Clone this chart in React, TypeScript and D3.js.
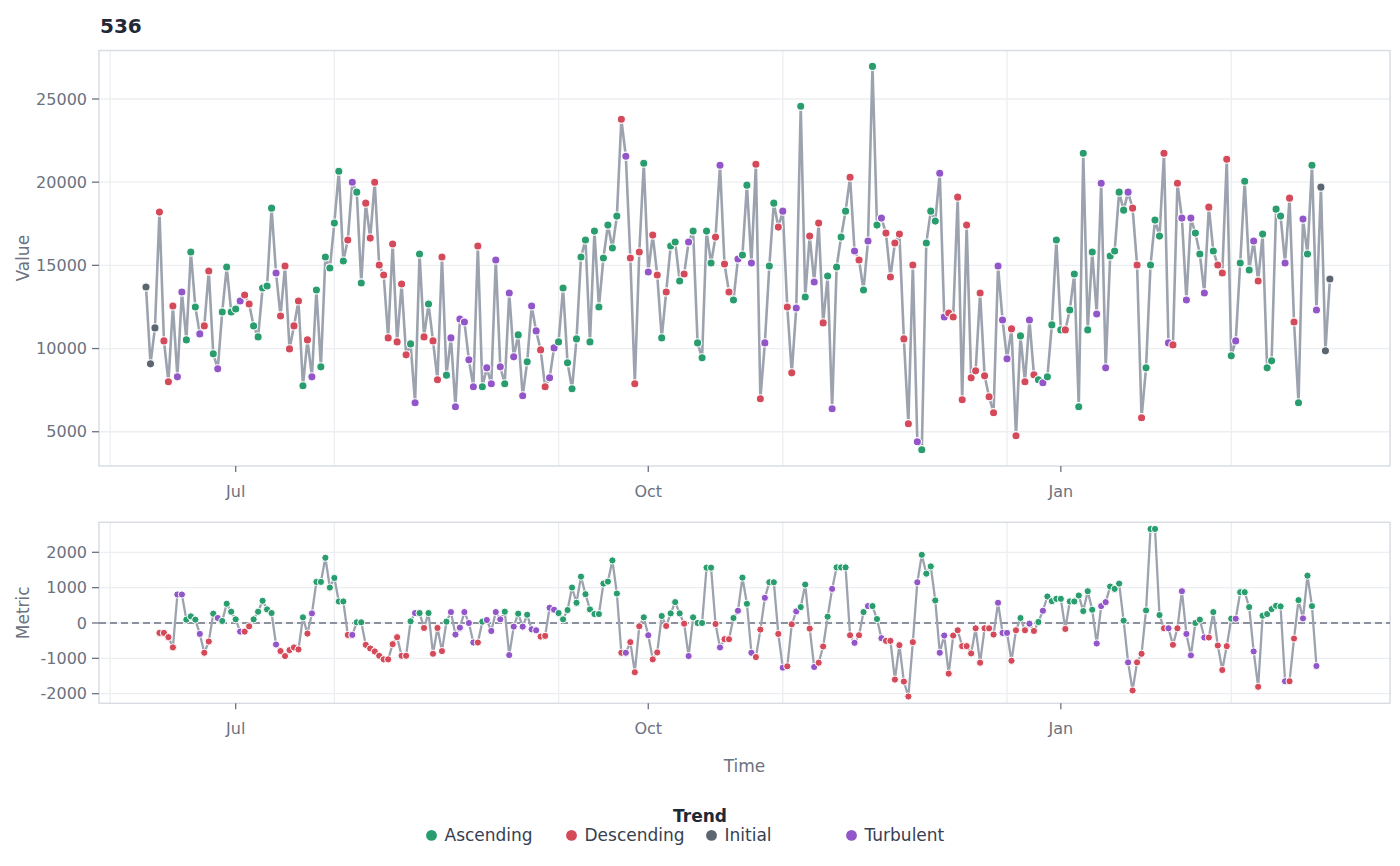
import React from "react";
import * as d3 from "d3";

// ---------- DATA ----------
const chartTitle = "536";
const startDate = "2023-06-11"; // first daily observation

const values: number[] = [
  13700, 9080, 11240, 18200, 10460, 8000, 12560, 8300, 13400, 10520,
  15800, 12500, 10880, 11360, 14660, 9680, 8780, 12200, 14900, 12200,
  12380, 12860, 13220, 12680, 11360, 10700, 13640, 13760, 18440, 14540,
  11960, 14960, 9980, 11360, 12860, 7760, 10520, 8300, 13520, 8900,
  15500, 14840, 17540, 20660, 15260, 16520, 20000, 19400, 13940, 18740,
  16640, 20000, 15020, 14420, 10640, 16280, 10400, 13880, 9620, 10280,
  6740, 15680, 10700, 12680, 10460, 8120, 15500, 8400, 10640, 6500,
  11780, 11600, 9320, 7700, 16160, 7700, 8840, 7880, 15320, 8900,
  7880, 13340, 9500, 10820, 7160, 9200, 12560, 11060, 9920, 7700,
  8240, 10040, 10400, 13640, 9140, 7580, 10580, 15500, 16520, 10400,
  17060, 12500, 15440, 17420, 16040, 17960, 23780, 21560, 15440, 7880,
  15800, 21140, 14600, 16820, 14420, 10640, 13400, 16160, 16400, 14060,
  14480, 16400, 17060, 10340, 9440, 17060, 15140, 16700, 21020, 15080,
  13400, 12920, 15380, 15620, 19820, 15140, 21080, 6980, 10340, 14960,
  18740, 17300, 18260, 12500, 8540, 12440, 24560, 13100, 16760, 14000,
  17540, 11540, 14360, 6380, 14900, 16700, 18260, 20300, 15860, 15320,
  13520, 16460, 26960, 17420, 17840, 16940, 14300, 16340, 16880, 10580,
  5480, 15020, 4400, 3920, 16340, 18260, 17660, 20540, 11900, 12140,
  11900, 19100, 6920, 17420, 8240, 8660, 13340, 8360, 7100, 6140,
  14960, 11720, 9380, 11180, 4760, 10760, 8000, 11720, 8420, 8120,
  7940, 8300, 11420, 16520, 11120, 11120, 12320, 14480, 6500, 21740,
  11120, 15800, 12080, 19940, 8840, 15560, 15860, 19400, 18320, 19400,
  18440, 15020, 5840, 8840, 15020, 17720, 16760, 21740, 10340, 10220,
  19940, 17840, 12920, 17840, 16940, 15680, 13340, 18500, 15860, 15020,
  14540, 21380, 9560, 10460, 15140, 20060, 14720, 16460, 14060, 16880,
  8840, 9260, 18380, 17960, 15140, 19040, 11600, 6740, 17780, 15680,
  21020, 12320, 19700, 9860, 14180,
];

const metric: (number | null)[] = [
  null, null, null, -280, -280, -400, -690, 806, 806, 95,
  188, 95, -309, -842, -524, 263, 141, 56, 544, 319,
  103, -243, -243, -94, 103, 319, 628, 384, 281, -608,
  -795, -936, -767, -692, -748, 160, -299, 272, 1162, 1162,
  1845, 1003, 1274, 609, 609, -337, -337, 19, 19, -618,
  -721, -805, -927, -1029, -1029, -599, -402, -927, -927, 47,
  281, 281, -140, 281, -870, -140, -795, 38, 309, -327,
  -131, 309, 0, -552, -552, 38, 84, -225, 309, 103,
  319, -908, -103, 263, -103, 234, -178, -206, -384, -365,
  431, 375, 281, 103, 366, 1003, 572, 1312, 815, 384,
  253, 253, 1115, 1171, 1770, 834, -842, -842, -542, -1393,
  -93, 160, -346, -1029, -833, 197, -84, 272, 590, 272,
  -19, -936, 160, 0, 0, 1565, 1565, -28, -692, -459,
  -459, 141, 347, 1284, 544, -842, -964, -187, 712, 1152,
  1152, -309, -1264, -1226, -37, 328, 450, 1087, -159, -1245,
  -1124, -664, 178, 965, 1573, 1573, 1573, -346, -561, -346,
  309, 478, 478, 112, -430, -505, -505, -1601, -627, -1657,
  -2079, -542, 1152, 1930, 1396, 1601, 638, -842, -355, -1433,
  -355, -206, -655, -655, -861, -150, -1124, -150, -150, -327,
  572, -281, -281, -1068, -206, 141, -206, -19, -225, 28,
  347, 750, 618, 684, 684, -168, 609, 609, 778, 337,
  899, 375, -580, 478, 590, 1031, 965, 1115, 66, -1114,
  -1910, -1114, -871, 356, 2660, 2660, 225, -150, -150, -618,
  -150, 899, -309, -917, 0, 94, -411, -411, 309, -636,
  -1330, -655, 122, 122, 871, 871, 450, -805, -1806, 206,
  253, 393, 487, 468, -1648, -1648, -440, 646, 131, 1340,
  478, -1217, null, null, null,
];

// one code per day: A = Ascending, D = Descending, I = Initial, T = Turbulent
const trendCodes = [
  "IIIDDDDTTA", "AATDDATAAA", "ATDDAAAAAT", "DDDDDADTAA", "AAAAADTAAD",
  "DDDDDDDDDA", "TADADDDATT", "TTTTDATTTT", "ATTATATTDD", "TTAAAAAAAA",
  "AAAAAADTDD", "DATDDADAAA", "DTAAAAADTD", "DATAATDDTA", "ADTDDTAADT",
  "DDATAAADTD", "ATAATDDDDD", "DDTAAAATTD", "DDDDDDDDDD", "TTTDDADTDA",
  "TAAAADAAAA", "AATTTAAAAT", "DDDAAAADTD", "DTTTAATDAD", "DDATAAATDA",
  "AAAATDDATA", "ATIII",
].join("").split("");

const trendNames: Record<string, string> = {
  A: "Ascending",
  D: "Descending",
  I: "Initial",
  T: "Turbulent",
};
const legendOrder = ["Ascending", "Descending", "Initial", "Turbulent"];
const trendColors = ["#2a9d6e", "#d44a5a", "#5b6670", "#9256c9"];

const valueTicks = [5000, 10000, 15000, 20000, 25000];
const metricTicks = [-2000, -1000, 0, 1000, 2000];
const xTickDates = ["2023-07-01", "2023-10-01", "2024-01-01"];
const xTickLabels = ["Jul", "Oct", "Jan"];
const xGridDates = ["2023-06-03", "2023-07-23", "2023-09-11", "2023-10-31", "2023-12-20", "2024-02-08"];

// ---------- LAYOUT ----------
const W = 1400;
const H = 866;
const left = 99;
const right = 1390;
const top1 = 50.5;
const bot1 = 466;
const top2 = 522.3;
const bot2 = 703.3;
const padLeftDays = 10.48;
const padRightDays = 13.4;
const DAY = 864e5;

const FONT = "'DejaVu Sans', Verdana, sans-serif";
const gridColor = "#eceef1";
const frameColor = "#d9dde3";
const tickColor = "#6b7280";
const lineColor = "#9ca3af";

const parse = d3.utcParse("%Y-%m-%d");

export default function App() {
  const d0 = parse(startDate) as Date;
  const dates = values.map((_, i) => d3.utcDay.offset(d0, i));
  const dEnd = dates[dates.length - 1];

  const x = d3
    .scaleUtc()
    .domain([new Date(d0.getTime() - padLeftDays * DAY), new Date(dEnd.getTime() + padRightDays * DAY)])
    .range([left, right]);
  const y1 = d3.scaleLinear().domain([2940, 27915]).range([bot1, top1]);
  const y2 = d3.scaleLinear().domain([-2272, 2849]).range([bot2, top2]);
  const color = d3.scaleOrdinal<string, string>().domain(legendOrder).range(trendColors);

  const rows = values.map((v, i) => ({
    date: dates[i],
    value: v,
    metric: metric[i],
    trend: trendNames[trendCodes[i]],
  }));
  const mRows = rows.filter((r) => r.metric !== null);

  const line1 = d3
    .line<(typeof rows)[number]>()
    .x((d) => x(d.date))
    .y((d) => y1(d.value));
  const line2 = d3
    .line<(typeof rows)[number]>()
    .x((d) => x(d.date))
    .y((d) => y2(d.metric as number));

  const gridX = xGridDates.map((s) => x(parse(s) as Date));
  const tickX = xTickDates.map((s) => x(parse(s) as Date));

  const panel = (yTop: number, yBot: number, yScale: d3.ScaleLinear<number, number>, ticks: number[], key: string) => (
    <g key={key}>
      {gridX.map((gx, i) => (
        <line key={"gx" + i} x1={gx} x2={gx} y1={yTop} y2={yBot} stroke={gridColor} strokeWidth={1.3} />
      ))}
      {ticks.map((t) => (
        <line key={"gy" + t} x1={left} x2={right} y1={yScale(t)} y2={yScale(t)} stroke={gridColor} strokeWidth={1.3} />
      ))}
      <rect x={left} y={yTop} width={right - left} height={yBot - yTop} fill="none" stroke={frameColor} strokeWidth={1.5} />
      {ticks.map((t) => (
        <g key={"ty" + t}>
          <line x1={left - 7} x2={left} y1={yScale(t)} y2={yScale(t)} stroke={tickColor} strokeWidth={1.3} />
          <text x={left - 12} y={yScale(t)} dy="0.36em" textAnchor="end" fontSize={16} fill={tickColor} fontFamily={FONT}>
            {t}
          </text>
        </g>
      ))}
      {tickX.map((tx, i) => (
        <g key={"tx" + i}>
          <line x1={tx} x2={tx} y1={yBot} y2={yBot + 6} stroke={tickColor} strokeWidth={1.3} />
          <text x={tx} y={yBot + 31} textAnchor="middle" fontSize={16} fill={tickColor} fontFamily={FONT}>
            {xTickLabels[i]}
          </text>
        </g>
      ))}
    </g>
  );

  return (
    <svg
      width={W}
      height={H}
      style={{ position: "absolute", left: 0, top: 0, background: "#fff" }}
      fontFamily={FONT}
    >
      <rect x={0} y={0} width={W} height={H} fill="#fff" />
      <text x={100} y={32.5} fontSize={20} fontWeight="bold" fill="#1f2937">
        {chartTitle}
      </text>

      {panel(top1, bot1, y1, valueTicks, "p1")}
      {panel(top2, bot2, y2, metricTicks, "p2")}

      {/* top series */}
      <path d={line1(rows) || ""} fill="none" stroke={lineColor} strokeWidth={2.6} strokeLinejoin="round" />
      {rows.map((r, i) => (
        <circle key={"p" + i} cx={x(r.date)} cy={y1(r.value)} r={4.1} fill={color(r.trend)} stroke="#fff" strokeWidth={1.1} />
      ))}

      {/* bottom series */}
      <line x1={left} x2={right} y1={y2(0)} y2={y2(0)} stroke="#6b7280" strokeWidth={1.6} strokeDasharray="7 4" />
      <path d={line2(mRows) || ""} fill="none" stroke={lineColor} strokeWidth={2.3} strokeLinejoin="round" />
      {mRows.map((r, i) => (
        <circle key={"m" + i} cx={x(r.date)} cy={y2(r.metric as number)} r={3.6} fill={color(r.trend)} stroke="#fff" strokeWidth={1} />
      ))}

      {/* axis titles */}
      <text transform={`translate(29,${(top1 + bot1) / 2}) rotate(-90)`} textAnchor="middle" fontSize={17} fill={tickColor}>
        Value
      </text>
      <text transform={`translate(29,${(top2 + bot2) / 2}) rotate(-90)`} textAnchor="middle" fontSize={17} fill={tickColor}>
        Metric
      </text>
      <text x={(left + right) / 2} y={772} textAnchor="middle" fontSize={17} fill={tickColor}>
        Time
      </text>

      {/* legend */}
      <text x={700} y={821.5} textAnchor="middle" fontSize={17} fontWeight="bold" fill="#1f2937">
        Trend
      </text>
      {legendOrder.map((name, i) => (
        <g key={name} transform={`translate(${431.5 + i * 140},835.4)`}>
          <circle r={5.4} fill={color(name)} />
          <text x={13} y={6} fontSize={17} fill="#374151">
            {name}
          </text>
        </g>
      ))}
    </svg>
  );
}
